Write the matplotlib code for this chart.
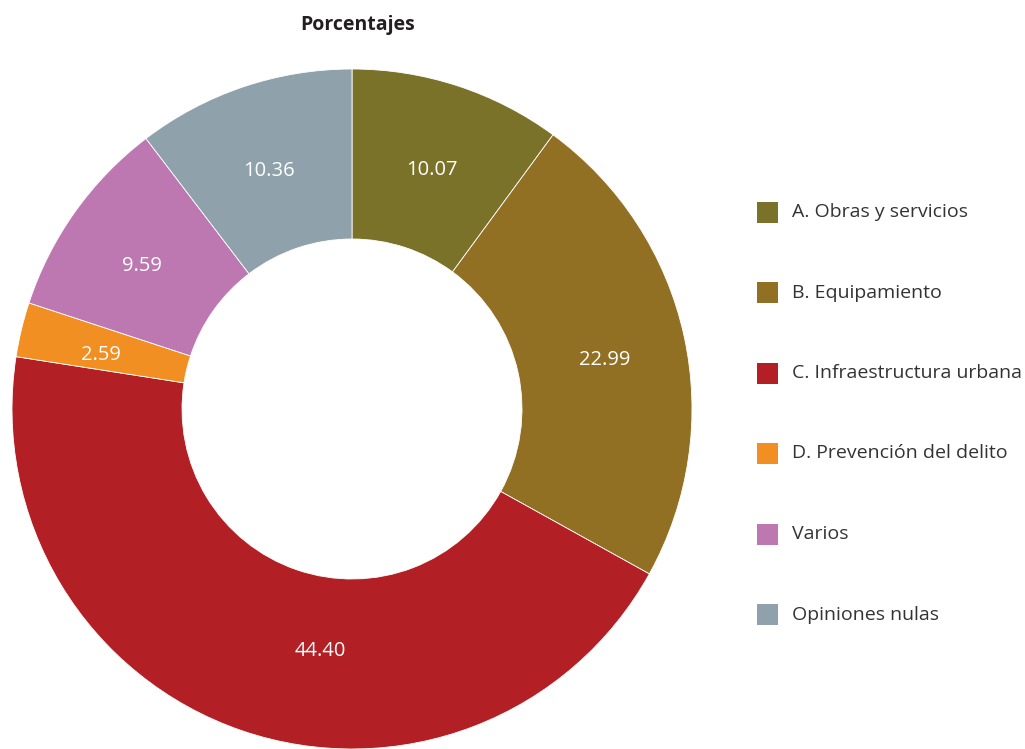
import matplotlib
matplotlib.use("Agg")
import matplotlib.pyplot as plt
from matplotlib.patches import Rectangle

categories = ["A. Obras y servicios", "B. Equipamiento", "C. Infraestructura urbana",
              "D. Prevención del delito", "Varios", "Opiniones nulas"]
values = [10.07, 22.99, 44.40, 2.59, 9.59, 10.36]
labels = ["10.07", "22.99", "44.40", "2.59", "9.59", "10.36"]
colors = ["#7a7229", "#927023", "#b22025", "#f28f22", "#bd78b2", "#8fa1aa"]

plt.rcParams['font.family'] = ['Open Sans', 'DejaVu Sans']

W, H = 1025, 749
fig = plt.figure(figsize=(W / 100, H / 100), dpi=100)
ax = fig.add_axes([0, 0, 1, 1])

cx, cy, R = 352, H - 409, 340
wedges, texts = ax.pie(values, colors=colors, startangle=90, counterclock=False,
                       radius=R, center=(cx, cy), labels=labels, labeldistance=0.76,
                       wedgeprops=dict(width=R * 0.5, edgecolor="white", linewidth=0.6),
                       textprops=dict(color="white", fontsize=14.5))
for i, t in enumerate(texts):
    t.set_horizontalalignment("center")
    t.set_verticalalignment("center_baseline")
    x, y = t.get_position()
    t.set_position((x, y - 4))
# the large slice's label sits off its mid-angle in the reference
texts[2].set_position((cx - 32, H - 648))

ax.set_xlim(0, W)
ax.set_ylim(0, H)
ax.set_aspect("equal")
ax.axis("off")

ax.text(358, H - 25, "Porcentajes", ha="center", va="center", fontsize=14,
        fontweight="bold", color="#231f20")

y0, dy = 212, 80.5
for i, (c, lab) in enumerate(zip(colors, categories)):
    y = H - (y0 + i * dy)
    ax.add_patch(Rectangle((757, y - 10.5), 21, 21, facecolor=c, edgecolor="none"))
    ax.text(792, y, lab, ha="left", va="center", fontsize=14, color="#333333")

fig.savefig("out.png", dpi=100)
